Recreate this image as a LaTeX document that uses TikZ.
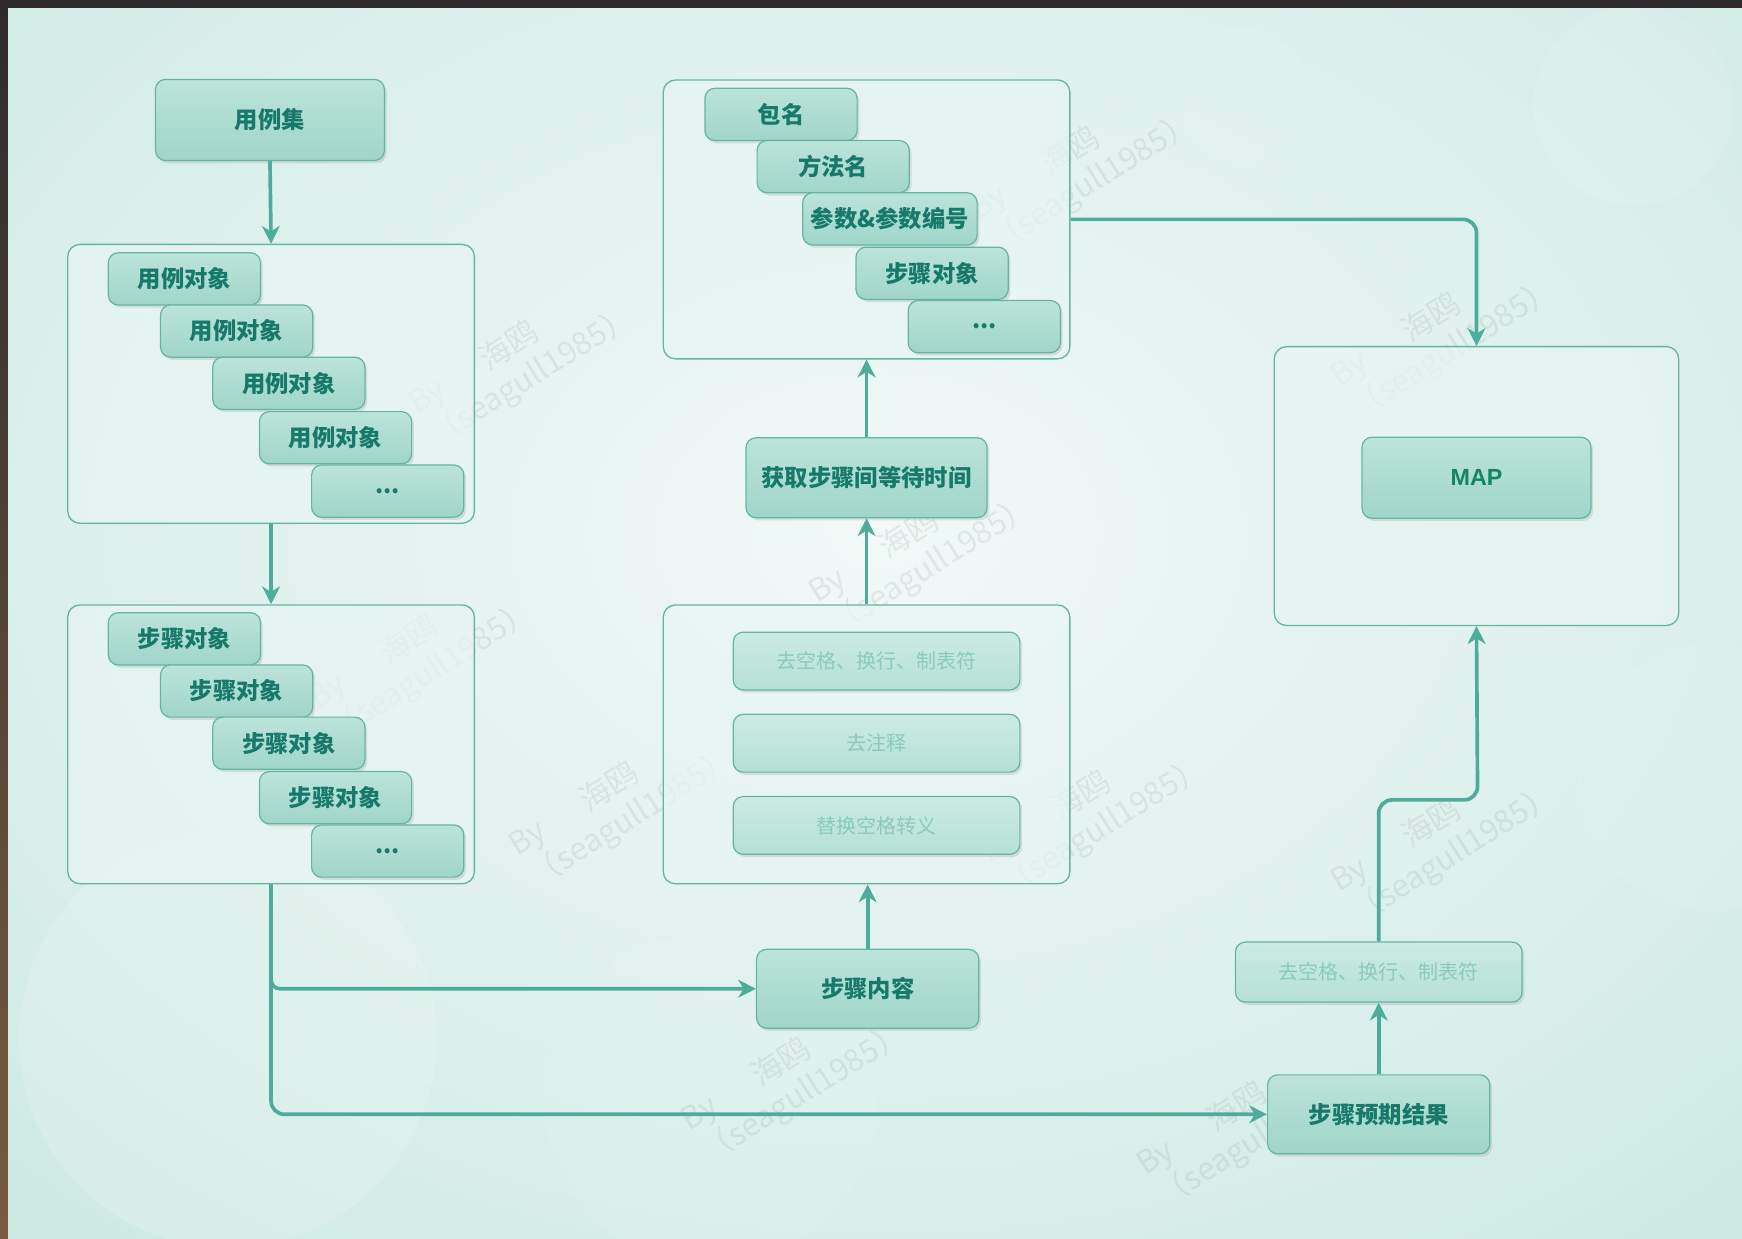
\documentclass[tikz,border=0pt]{standalone}
\usepackage{fontspec}
\newfontfamily\cjk{Noto Sans CJK SC}
\newfontfamily\latsans{Liberation Sans}
\usetikzlibrary{arrows.meta,shadows}
\definecolor{bgc}{HTML}{C2E5DD}
\definecolor{bgin}{HTML}{F2F9F8}
\definecolor{boxtop}{HTML}{BCE4DA}
\definecolor{boxbot}{HTML}{A0D5C9}
\definecolor{fboxtop}{HTML}{CBEBE4}
\definecolor{fboxbot}{HTML}{B5E0D6}
\definecolor{bordc}{HTML}{66B5A3}
\definecolor{txtc}{HTML}{17796A}
\definecolor{fadec}{HTML}{8ACBBC}
\definecolor{contc}{HTML}{E8F6F3}
\definecolor{arrc}{HTML}{4EAD9A}
\definecolor{darkc}{HTML}{2C2C2C}
\definecolor{brownc}{HTML}{7A5A40}
\begin{document}
\begin{tikzpicture}[x=1pt,y=-1pt,
  box/.style={draw=bordc, line width=1.1pt, rounded corners=9pt, top color=boxtop, bottom color=boxbot,
    drop shadow={shadow xshift=2pt,shadow yshift=-2.5pt,opacity=0.2}, text=txtc,
    font=\cjk\bfseries\fontsize{21}{24}\selectfont, minimum width=137pt, minimum height=47pt, inner sep=0pt},
  bigbox/.style={box, minimum width=200pt, minimum height=71pt},
  fbox/.style={box, top color=fboxtop, bottom color=fboxbot, text=fadec,
    font=\cjk\fontsize{18}{20}\selectfont, minimum width=258pt, minimum height=52pt},
  cont/.style={draw=bordc, line width=1.2pt, rounded corners=11pt, fill=contc, fill opacity=0.7,
    minimum width=366pt, minimum height=251pt, inner sep=0pt},
  conn/.style={draw=arrc, line width=3.3pt, -{Stealth[length=16pt,width=16pt,inset=5pt]}},
  wm/.style={font=\cjk\fontsize{28}{34}\selectfont, text=black!45, opacity=0.15, rotate=32, align=left, inner sep=0pt}]
\useasboundingbox (0,0) rectangle (1568,1115);
% background
\fill[bgc] (0,0) rectangle (1568,1115);
\shade[inner color=bgin, outer color=bgc] (790,480) ellipse (1500 and 1100);
\fill[white, opacity=0.15] (205,935) circle (188);
\fill[white, opacity=0.10] (1470,95) circle (90);
\fill[white, opacity=0.08] (1120,85) circle (60);
\fill[white, opacity=0.08] (640,990) circle (150);
\fill[white, opacity=0.08] (1540,700) circle (120);
\fill[darkc] (0,0) rectangle (1568,7);
\shade[top color=darkc, bottom color=brownc] (0,0) rectangle (7,1115);
% watermarks
\foreach \p in {(470,325),(975,150),(1300,300),(380,590),(560,722),(830,495),(985,730),(1300,755),(715,970),(1125,1010)}
  \node[wm] at \p {By\hspace{1.5em}海鸥\\（seagull1985）};
% containers
\node[cont] (c1) at (244,345.5) {};
\node[cont] (c2) at (244,670) {};
\node[cont] (ct) at (780,197.5) {};
\node[cont] (cm) at (780,670) {};
\node[cont, minimum width=364pt] (cmap) at (1329,437.5) {};
% left column
\node[box, minimum width=206pt, minimum height=73pt] (uc) at (243,108) {用例集};
\node[box] (u1) at (166,251) {用例对象};
\node[box] (u2) at (213,298) {用例对象};
\node[box] (u3) at (260,345) {用例对象};
\node[box] (u4) at (302,394) {用例对象};
\node[box] (u5) at (349,442) {...};
\node[box] (s1) at (166,575) {步骤对象};
\node[box] (s2) at (213,622) {步骤对象};
\node[box] (s3) at (260,669) {步骤对象};
\node[box] (s4) at (302,718) {步骤对象};
\node[box] (s5) at (349,766) {...};
% middle column
\node[box] (p1) at (703,103) {包名};
\node[box] (p2) at (750,150) {方法名};
\node[box, minimum width=157pt] (p3) at (801,197) {参数\&参数编号};
\node[box] (p4) at (839,246) {步骤对象};
\node[box] (p5) at (886,294) {...};
\node[bigbox, minimum width=217pt, minimum height=72pt] (wait) at (780,430) {获取步骤间等待时间};
\node[fbox] (f1) at (789,595) {去空格、换行、制表符};
\node[fbox] (f2) at (789,669) {去注释};
\node[fbox] (f3) at (789,743) {替换空格转义};
\node[bigbox] (sc) at (781,890) {步骤内容};
% right column
\node[box, minimum width=206pt, minimum height=73pt, font=\latsans\bfseries\fontsize{21}{24}\selectfont, text=txtc!90!green] (map) at (1329,430) {MAP};
\node[fbox, minimum height=54pt] (rs) at (1241,875) {去空格、换行、制表符};
\node[bigbox] (exp) at (1241,1003) {步骤预期结果};
\coordinate (bend) at (1330,720);
% connectors
\draw[conn] (uc.south) -- (c1.north);
\draw[conn] (c1.south) -- (c2.north);
\draw[conn, rounded corners=8pt] (c2.south) |- (sc.west);
\draw[conn, rounded corners=12pt] (c2.south) |- (exp.west);
\draw[conn] (sc.north) -- (sc.north |- cm.south);
\draw[conn] (cm.north) -- (wait.south);
\draw[conn] (wait.north) -- (ct.south);
\draw[conn, rounded corners=12pt] (ct.east) -| (cmap.north);
\draw[conn] (exp.north) -- (rs.south);
\draw[conn, rounded corners=12pt] (rs.north) |- (bend) -- (cmap.south);
\end{tikzpicture}
\end{document}
